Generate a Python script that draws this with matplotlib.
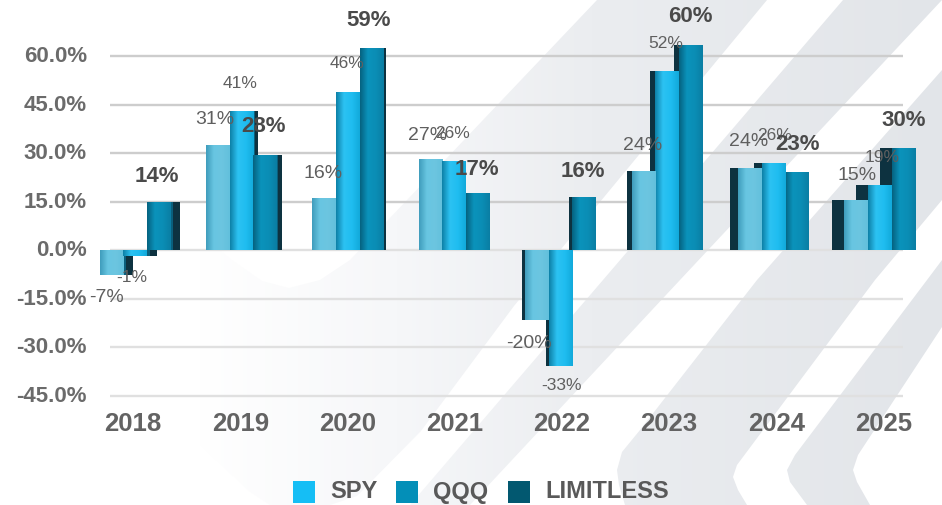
#!/usr/bin/env python3
import numpy as np
import matplotlib

matplotlib.use("Agg")
import matplotlib.pyplot as plt
from matplotlib.colors import LinearSegmentedColormap
from matplotlib.patches import PathPatch, Rectangle
from matplotlib.path import Path

W, H = 942, 505

years = ["2018", "2019", "2020", "2021", "2022", "2023", "2024", "2025"]
# bar heights as drawn (the 3d bars sit a bit above their labels)
spy = [-7.7, 32.5, 16.0, 28.0, -21.5, 24.5, 25.5, 15.5]
qqq = [-1.8, 43.0, 49.0, 27.5, -36.0, 55.5, 27.0, 20.0]
limitless = [14.7, 29.5, 62.5, 17.5, 16.5, 63.5, 24.0, 31.5]
spy_labels = ["-7%", "31%", "16%", "27%", "-20%", "24%", "24%", "15%"]
qqq_labels = ["-1%", "41%", "46%", "26%", "-33%", "52%", "26%", "19%"]
lim_labels = ["14%", "28%", "59%", "17%", "16%", "60%", "23%", "30%"]
yticks = [60, 45, 30, 15, 0, -15, -30, -45]
legend_names = ["SPY", "QQQ", "LIMITLESS"]

plt.rcParams["font.family"] = ["Liberation Sans", "DejaVu Sans"]

# side face depth per group, in px: + shows right side, - shows left side
depth = [10, 5, 3, 0, -3, -5, -8, -12]

PX_X = 106.4  # px per group
PX_Y = 48.5 / 15  # px per percent
X0, Y0 = 135, 250  # px of first group centre and of zero


def px(x, y):
    return x / W, 1 - y / H


fig = plt.figure(figsize=(W / 100, H / 100), dpi=100, facecolor="white")

# background stripes
bg = fig.add_axes([0, 0, 1, 1], zorder=0)
bg.set_xlim(0, W)
bg.set_ylim(H, 0)
bg.axis("off")
bg_cmap = LinearSegmentedColormap.from_list(
    "bg", [(0, "#ffffff"), (0.21, "#ffffff"), (0.42, "#f6f7f9"), (0.63, "#ebedf0"), (1, "#e2e5e9")]
)
grad = np.linspace(0, 1, 256).reshape(1, -1)
stripes = [
    [(597, 0), (767, 0), (514, 306), (421, 431), (357, 496), (330, 505), (270, 505), (250, 492), (200, 445),
     (200, 235), (232, 260), (262, 281), (289, 288), (320, 280), (350, 260)],
    [(843, 0), (942, 0), (680, 280), (568, 400), (470, 505), (410, 505), (500, 400), (603, 280)],
    [(942, 70), (757, 280), (640, 430), (622, 452), (617, 470), (619, 485), (625, 505), (747, 505), (738, 490),
     (733, 477), (737, 465), (875, 280), (942, 200)],
    [(942, 260), (927, 280), (795, 455), (787, 470), (790, 482), (807, 505), (870, 505), (857, 482), (853, 470),
     (858, 455), (942, 327)],
]
for pts in stripes:
    im = bg.imshow(grad, extent=(0, W, H, 0), aspect="auto", cmap=bg_cmap, vmin=0, vmax=1)
    im.set_clip_path(PathPatch(Path(pts + [pts[0]], closed=True), transform=bg.transData))

ax = fig.add_axes([0, 0, 1, 1], zorder=1)
ax.patch.set_alpha(0)
# data limits so that group index and percent map onto the reference pixels
ax.set_xlim(-X0 / PX_X, (W - X0) / PX_X)
ax.set_ylim((Y0 - H) / PX_Y, Y0 / PX_Y)
ax.axis("off")

for v in yticks:
    ax.plot([-0.235, 7.22], [v, v], color="#cdcdcd" if v > 0 else "#e0e0e0", lw=1.7, zorder=1, solid_capstyle="butt")
    ax.text(px(87, 0)[0], v - 0.3, f"{v:.1f}%", transform=ax.get_yaxis_transform(), ha="right", va="center",
            fontsize=16, fontweight="bold", color="#6b6b6b")

cmaps = [
    LinearSegmentedColormap.from_list("a", ["#3f9cbb", "#68c6e2", "#6cc5e0", "#62c0dc"]),
    LinearSegmentedColormap.from_list("b", ["#0d7fa6", "#2cc2f2", "#1fbdf0", "#12a9da"]),
    LinearSegmentedColormap.from_list("c", ["#05617f", "#0b93bb", "#0a8db5", "#0a7ea3"]),
]
side_dark = "#0d3240"
bar_w = 23.6 / PX_X


def draw_bar(cx, val, k, d, z):
    left = cx - bar_w / 2
    d_x = d / PX_X
    # side face behind the front
    if d > 0:
        ax.bar(left + bar_w - 0.06, val, width=0.06 + d_x, align="edge", color="#0a5f7c", zorder=z)
        ax.bar(left + bar_w + d_x * 0.3, val, width=d_x * 0.7, align="edge", color=side_dark, zorder=z)
    elif d < 0:
        ax.bar(left + d_x, val, width=-d_x + 0.02, align="edge", color=side_dark, zorder=z)
    front = ax.bar(left, val, width=bar_w, align="edge", color="#888888", zorder=z)[0]
    im = ax.imshow(grad, extent=(left, left + bar_w, min(val, 0), max(val, 0)), aspect="auto",
                   cmap=cmaps[k], vmin=0, vmax=1, zorder=z + 0.1)
    im.set_clip_path(front)


series = [spy, qqq, limitless]
for g, cx in enumerate(range(len(years))):
    # the neighbour in front hides the side face
    order = [0, 1, 2] if depth[g] >= 0 else [2, 1, 0]
    for n, k in enumerate(order):
        draw_bar(cx + (k - 1) * bar_w, series[k][g], k, depth[g], 2 + n)

ax.set_xlim(-X0 / PX_X, (W - X0) / PX_X)
ax.set_ylim((Y0 - H) / PX_Y, Y0 / PX_Y)

# data labels sit at hand-read pixel spots, they overlap like in the source
spy_pos = [(107, 298), (215, 120), (323, 173), (428, 135), (529, 344), (643, 145), (749, 142), (857, 175)]
qqq_pos = [(132, 278), (240, 83), (347, 63), (453, 134), (561, 386), (666, 43), (774, 135), (882, 158)]
lim_pos = [(157, 177), (264, 127), (369, 20), (477, 169), (583, 171), (690, 17), (798, 145), (904, 120)]
for g in range(len(years)):
    fx, fy = px(*spy_pos[g])
    fig.text(fx, fy, spy_labels[g], ha="center", va="center", fontsize=14, color="#5f5f5f", zorder=5)
    fx, fy = px(*qqq_pos[g])
    fig.text(fx, fy, qqq_labels[g], ha="center", va="center", fontsize=12.5, color="#5f5f5f", zorder=5)
    fx, fy = px(*lim_pos[g])
    fig.text(fx, fy, lim_labels[g], ha="center", va="center", fontsize=16, fontweight="bold",
             color="#4a4a4a", zorder=5)
    fx, fy = px(133 + g * 107.2, 424)
    fig.text(fx, fy, years[g], ha="center", va="center", fontsize=18.5, fontweight="bold", color="#636363", zorder=5)

# legend
leg_colors = ["#15bef5", "#038fb8", "#025870"]
leg_box = [293, 396, 508]
leg_text = [330, 433, 545]
for c, bx, tx, name in zip(leg_colors, leg_box, leg_text, legend_names):
    fig.add_artist(Rectangle(px(bx, 503), 22 / W, 22 / H, transform=fig.transFigure, facecolor=c, edgecolor="none", zorder=5))
    fx, fy = px(tx, 492)
    fig.text(fx, fy, name, ha="left", va="center", fontsize=17, fontweight="bold", color="#595959", zorder=5)

fig.savefig("out.png", dpi=100, facecolor="white")
